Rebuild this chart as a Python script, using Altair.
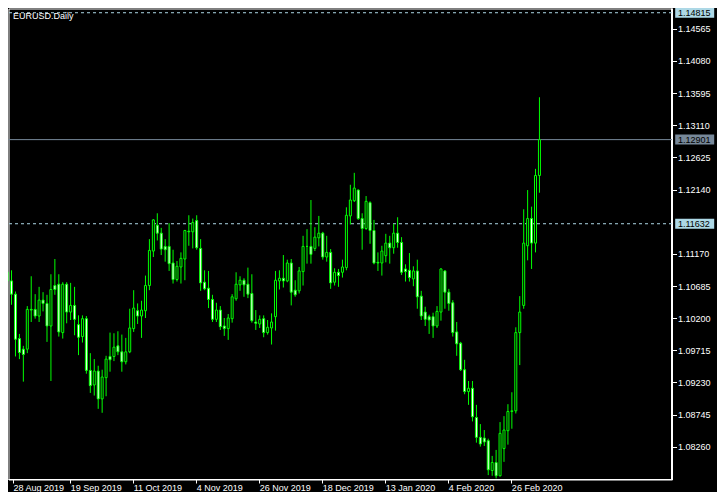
import altair as alt
import pandas as pd

# ---- data (EURUSD daily, 28 Aug 2019 .. 6 Mar 2020) ----
opens = [1.1090, 1.1077, 1.1057, 1.0990, 1.0974, 1.0974, 1.1034, 1.1034, 1.1024, 1.1048,
         1.1043, 1.1009, 1.1070, 1.1072, 1.0999, 1.1072, 1.1030, 1.1040, 1.1011, 1.0993,
         1.1020, 1.0942, 1.0920, 1.0941, 1.0899, 1.0931, 1.0963, 1.0963, 1.0979, 1.0970,
         1.0955, 1.0970, 1.1005, 1.1032, 1.1024, 1.1032, 1.1070, 1.1122, 1.1161, 1.1149,
         1.1129, 1.1129, 1.1104, 1.1079, 1.1098, 1.1110, 1.1152, 1.1151, 1.1168, 1.1126,
         1.1075, 1.1066, 1.1049, 1.1019, 1.1033, 1.1009, 1.1005, 1.1020, 1.1050, 1.1071,
         1.1078, 1.1072, 1.1058, 1.1015, 1.1012, 1.1020, 1.0999, 1.1006, 1.1023, 1.1077,
         1.1081, 1.1077, 1.1104, 1.1063, 1.1062, 1.1091, 1.1129, 1.1129, 1.1126, 1.1142,
         1.1149, 1.1113, 1.1120, 1.1075, 1.1090, 1.1090, 1.1097, 1.1175, 1.1198, 1.1214,
         1.1171, 1.1156, 1.1195, 1.1153, 1.1105, 1.1104, 1.1115, 1.1134, 1.1127, 1.1149,
         1.1135, 1.1095, 1.1093, 1.1080, 1.1092, 1.1054, 1.1030, 1.1023, 1.1023, 1.1009,
         1.1030, 1.1092, 1.1060, 1.1044, 1.1000, 1.0983, 1.0943, 1.0910, 1.0915, 1.0871,
         1.0841, 1.0840, 1.0836, 1.0791, 1.0803, 1.0783, 1.0824, 1.0851, 1.0880, 1.0881,
         1.0999, 1.1040, 1.1130, 1.1171, 1.1134, 1.1236]
highs = [1.1093, 1.1093, 1.1061, 1.0997, 1.0979, 1.1039, 1.1084, 1.1057, 1.1068, 1.1060,
         1.1056, 1.1087, 1.1110, 1.1087, 1.1075, 1.1075, 1.1074, 1.1068, 1.1025, 1.1025,
         1.1024, 1.0968, 1.0959, 1.0949, 1.0943, 1.0964, 1.0999, 1.0998, 1.1001, 1.0996,
         1.0991, 1.1035, 1.1063, 1.1043, 1.1047, 1.1085, 1.1140, 1.1170, 1.1179, 1.1157,
         1.1140, 1.1164, 1.1124, 1.1107, 1.1120, 1.1154, 1.1176, 1.1171, 1.1176, 1.1140,
         1.1093, 1.1092, 1.1056, 1.1044, 1.1039, 1.1021, 1.1027, 1.1057, 1.1090, 1.1084,
         1.1081, 1.1097, 1.1087, 1.1033, 1.1025, 1.1025, 1.1018, 1.1028, 1.1092, 1.1093,
         1.1116, 1.1109, 1.1110, 1.1078, 1.1098, 1.1145, 1.1155, 1.1199, 1.1158, 1.1175,
         1.1151, 1.1145, 1.1125, 1.1096, 1.1095, 1.1109, 1.1188, 1.1222, 1.1240, 1.1215,
         1.1179, 1.1205, 1.1197, 1.1169, 1.1120, 1.1130, 1.1148, 1.1145, 1.1163, 1.1173,
         1.1143, 1.1102, 1.1119, 1.1099, 1.1109, 1.1062, 1.1038, 1.1026, 1.1029, 1.1039,
         1.1096, 1.1093, 1.1065, 1.1048, 1.1015, 1.0985, 1.0958, 1.0926, 1.0926, 1.0890,
         1.0861, 1.0852, 1.0839, 1.0813, 1.0822, 1.0864, 1.0873, 1.0891, 1.0909, 1.1007,
         1.1054, 1.1185, 1.1214, 1.1189, 1.1246, 1.1354]
lows = [1.1072, 1.1041, 1.0963, 1.0959, 1.0925, 1.0968, 1.1015, 1.1020, 1.1015, 1.1031,
        1.0985, 1.0926, 1.1056, 1.0993, 1.0990, 1.1013, 1.1018, 1.0995, 1.0965, 1.0984,
        1.0937, 1.0908, 1.0904, 1.0884, 1.0878, 1.0903, 1.0940, 1.0956, 1.0965, 1.0940,
        1.0951, 1.0968, 1.1000, 1.1012, 1.0991, 1.1021, 1.1063, 1.1113, 1.1138, 1.1116,
        1.1106, 1.1092, 1.1073, 1.1076, 1.1073, 1.1078, 1.1130, 1.1126, 1.1124, 1.1062,
        1.1063, 1.1036, 1.1015, 1.1015, 1.1003, 1.0994, 1.0988, 1.1014, 1.1047, 1.1062,
        1.1053, 1.1051, 1.1014, 1.1003, 1.1006, 1.0992, 1.0996, 1.0981, 1.1002, 1.1064,
        1.1067, 1.1075, 1.1040, 1.1053, 1.1058, 1.1070, 1.1103, 1.1103, 1.1122, 1.1129,
        1.1109, 1.1106, 1.1065, 1.1070, 1.1068, 1.1082, 1.1093, 1.1162, 1.1196, 1.1169,
        1.1124, 1.1154, 1.1133, 1.1102, 1.1092, 1.1085, 1.1105, 1.1103, 1.1118, 1.1127,
        1.1086, 1.1076, 1.1076, 1.1069, 1.1035, 1.1018, 1.1009, 1.0997, 1.0991, 1.1006,
        1.1017, 1.1035, 1.1032, 1.0993, 1.0964, 1.0941, 1.0906, 1.0890, 1.0865, 1.0833,
        1.0827, 1.0828, 1.0784, 1.0783, 1.0779, 1.0782, 1.0804, 1.0830, 1.0854, 1.0877,
        1.0950, 1.1035, 1.1108, 1.1095, 1.1120, 1.1210]
closes = [1.1077, 1.1057, 1.0989, 1.0969, 1.0966, 1.1034, 1.1033, 1.1024, 1.1048, 1.1043,
          1.1009, 1.1064, 1.1064, 1.1000, 1.1072, 1.1030, 1.1040, 1.1019, 1.0992, 1.1020,
          1.0942, 1.0919, 1.0941, 1.0899, 1.0932, 1.0959, 1.0958, 1.0977, 1.0970, 1.0955,
          1.0970, 1.1006, 1.1036, 1.1024, 1.1033, 1.1070, 1.1123, 1.1169, 1.1149, 1.1125,
          1.1124, 1.1103, 1.1079, 1.1099, 1.1111, 1.1153, 1.1151, 1.1165, 1.1127, 1.1074,
          1.1065, 1.1049, 1.1019, 1.1033, 1.1008, 1.1005, 1.1021, 1.1053, 1.1072, 1.1078,
          1.1071, 1.1057, 1.1017, 1.1013, 1.1019, 1.0999, 1.1007, 1.1015, 1.1078, 1.1081,
          1.1077, 1.1104, 1.1060, 1.1056, 1.1092, 1.1129, 1.1129, 1.1117, 1.1143, 1.1149,
          1.1113, 1.1120, 1.1074, 1.1090, 1.1085, 1.1098, 1.1176, 1.1199, 1.1217, 1.1171,
          1.1156, 1.1197, 1.1153, 1.1104, 1.1104, 1.1122, 1.1134, 1.1127, 1.1149, 1.1135,
          1.1090, 1.1091, 1.1082, 1.1092, 1.1053, 1.1024, 1.1019, 1.1018, 1.1009, 1.1031,
          1.1095, 1.1060, 1.1043, 1.0999, 1.0982, 1.0943, 1.0910, 1.0915, 1.0872, 1.0841,
          1.0831, 1.0834, 1.0792, 1.0803, 1.0783, 1.0847, 1.0852, 1.0880, 1.0881, 1.0999,
          1.1030, 1.1134, 1.1171, 1.1134, 1.1236, 1.12901]

date_tick_bars = [0, 16, 32, 48, 64, 80, 96, 112, 128]
date_tick_labels = ["28 Aug 2019", "19 Sep 2019", "11 Oct 2019", "4 Nov 2019", "26 Nov 2019",
                    "18 Dec 2019", "13 Jan 2020", "4 Feb 2020", "26 Feb 2020"]
price_ticks = [1.14565, 1.14080, 1.13595, 1.13110, 1.12625, 1.12140, 1.11170,
               1.10685, 1.10200, 1.09715, 1.09230, 1.08745, 1.08260]
level_prices = [1.14815, 1.11632]
bid_price = 1.12901
symbol_title = "EURUSD.Daily"

# visible window of the chart (bars / prices)
x_domain = [1.5, 167.375]
y_domain = [1.07774, 1.14879]

BG = "#000000"
FG = "#FFFFFF"
CANDLE = "#00FF00"
LEVEL = "#ADD8E6"
BID = "#778899"
FONT = "Liberation Sans"

df = pd.DataFrame({"bar": list(range(len(opens))), "open": opens, "high": highs,
                   "low": lows, "close": closes})
df["fill"] = [BG if c >= o else FG for o, c in zip(opens, closes)]

# x-axis labels
first_visible = x_domain[0]
expr = "''"
for b, lab in reversed(list(zip(date_tick_bars, date_tick_labels))):
    expr = f"datum.value < {b + 8} ? '{lab}' : ({expr})"

x_scale = alt.Scale(domain=x_domain, nice=False, zero=False)
y_scale = alt.Scale(domain=y_domain, nice=False, zero=False)

x_axis = alt.Axis(orient="bottom", values=[first_visible] + date_tick_bars[1:], labelExpr=expr,
                  domainColor=FG, domainWidth=1, tickColor=FG, tickSize=4, tickWidth=1,
                  labelColor=FG, labelFont=FONT, labelFontSize=9, labelAlign="left",
                  labelBaseline="top", labelPadding=0, labelFlush=False, labelOverlap=False,
                  labelBound=False, grid=False, title=None)
y_axis = alt.Axis(orient="right", values=price_ticks, format=".5f",
                  domainColor=FG, domainWidth=2, tickColor=FG, tickSize=5, tickWidth=1,
                  labelColor=FG, labelFont=FONT, labelFontSize=9, labelAlign="left",
                  labelBaseline="middle", labelPadding=1, labelFlush=False,
                  labelOverlap=False, labelBound=False, grid=False, title=None)

base = alt.Chart(df)

wicks = base.mark_rule(color=CANDLE, strokeWidth=1, clip=True).encode(
    x=alt.X("bar:Q", scale=x_scale, axis=x_axis),
    y=alt.Y("low:Q", scale=y_scale, axis=y_axis),
    y2="high:Q",
)
bodies = base.mark_bar(size=2, stroke=CANDLE, strokeWidth=1, clip=True, opacity=1).encode(
    x=alt.X("bar:Q", scale=x_scale, axis=x_axis),
    y=alt.Y("open:Q", scale=y_scale, axis=y_axis),
    y2="close:Q",
    fill=alt.Fill("fill:N", scale=None),
)

levels_df = pd.DataFrame({"price": level_prices})
levels = alt.Chart(levels_df).mark_rule(color=LEVEL, strokeDash=[3, 3], strokeWidth=1).encode(
    y=alt.Y("price:Q", scale=y_scale, axis=y_axis)
)
bid_df = pd.DataFrame({"price": [bid_price]})
bid = alt.Chart(bid_df).mark_rule(color=BID, strokeWidth=1).encode(
    y=alt.Y("price:Q", scale=y_scale, axis=y_axis)
)

tags_df = pd.DataFrame({
    "price": level_prices + [bid_price],
    "box": [LEVEL, LEVEL, BID],
    "ink": ["#000000", "#000000", "#000000"],
})
tags_df["label"] = [f"{p:.5f}" for p in tags_df["price"]]

box_shape = "M-1,-0.2564L1,-0.2564L1,0.2564L-1,0.2564Z"
tag_boxes = alt.Chart(tags_df).mark_point(shape=box_shape, size=1521, filled=True, opacity=1,
                                          strokeWidth=0, clip=False).encode(
    x=alt.value(686.2),
    y=alt.Y("price:Q", scale=y_scale, axis=y_axis),
    color=alt.Color("box:N", scale=None),
)
tag_text = alt.Chart(tags_df).mark_text(align="left", baseline="middle", font=FONT,
                                        fontSize=9, clip=False).encode(
    x=alt.value(669.5),
    y=alt.Y("price:Q", scale=y_scale, axis=y_axis),
    text="label:N",
    color=alt.Color("ink:N", scale=None),
)

title_df = pd.DataFrame({"t": [symbol_title]})
title = alt.Chart(title_df).mark_text(align="left", baseline="alphabetic", font=FONT,
                                      fontSize=9, color=FG).encode(
    x=alt.value(4.5), y=alt.value(10), text="t:N"
)

chart = alt.layer(levels, bid, wicks, bodies, title, tag_boxes, tag_text).properties(
    width=663.5, height=471,
    padding={"left": 0.5, "top": 0.5, "right": 45, "bottom": 12},
    autosize=alt.AutoSizeParams(type="none"),
    background=BG,
).configure_view(stroke=FG, strokeWidth=1).configure_axis(translate=0)

chart.save("out.html", embed_options={"renderer": "svg", "actions": False})
